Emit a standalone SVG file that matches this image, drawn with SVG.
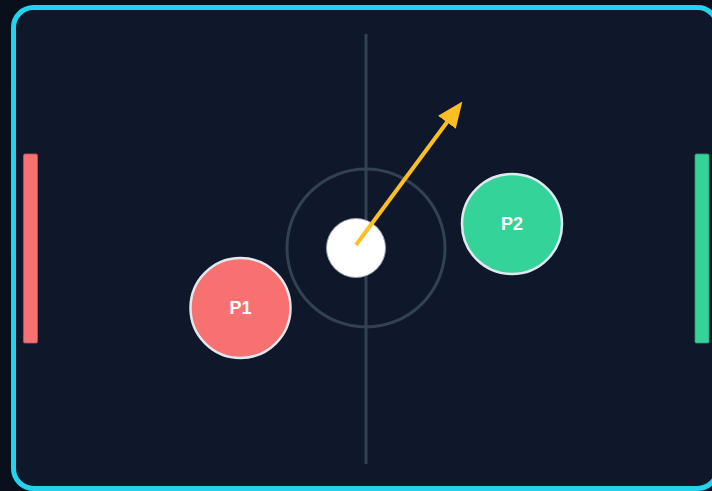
<svg xmlns="http://www.w3.org/2000/svg" width="712" height="491" viewBox="0 0 712 491">
  <style>
    .puck-text { font-family: "Liberation Sans", Arial, sans-serif; font-size: 18px; font-weight: bold; fill: #ffffff; text-anchor: middle; dominant-baseline: central; }
    .player { stroke: #e2e8f0; stroke-width: 2.5; }
    .paddle { stroke-width: 0.8; }
    .field-line { stroke: #334155; stroke-width: 3; fill: none; }
  </style>
  <defs>
    <marker id="arrowhead" markerUnits="userSpaceOnUse" markerWidth="26" markerHeight="22" refX="1" refY="11" orient="auto">
      <path d="M0,0 L26,11 L0,22 Z" fill="#fbbf24"/>
    </marker>
  </defs>

  <!-- page background -->
  <rect x="0" y="0" width="712" height="491" fill="#0a0f1c"/>

  <!-- board -->
  <g id="board">
    <rect x="13.5" y="7.5" width="704" height="481" rx="20" ry="20" fill="#0f172a" stroke="#22d3ee" stroke-width="5"/>
    <line class="field-line" x1="366" y1="34" x2="366" y2="464"/>
    <circle class="field-line" cx="366" cy="248" r="79"/>
  </g>

  <!-- goals / paddles -->
  <g id="paddle-left">
    <rect class="paddle" x="23.5" y="154" width="14" height="189" rx="1.5" fill="#f87171" stroke="#c2545a"/>
  </g>
  <g id="paddle-right">
    <rect class="paddle" x="695" y="154" width="14" height="189" rx="1.5" fill="#34d399" stroke="#2a9d74"/>
  </g>

  <!-- puck -->
  <g id="puck">
    <circle cx="356" cy="248" r="29.5" fill="#ffffff" stroke="#9ca3af" stroke-width="1"/>
  </g>

  <!-- players -->
  <g id="player-1">
    <circle class="player" cx="240.5" cy="308" r="50" fill="#f87171"/>
    <text class="puck-text" x="240.5" y="308">P1</text>
  </g>
  <g id="player-2">
    <circle class="player" cx="512" cy="224" r="50" fill="#34d399"/>
    <text class="puck-text" x="512" y="224">P2</text>
  </g>

  <!-- velocity vector -->
  <g id="connectors">
    <line x1="356" y1="245" x2="447.5" y2="121.5" stroke="#fbbf24" stroke-width="4" marker-end="url(#arrowhead)"/>
  </g>
</svg>
